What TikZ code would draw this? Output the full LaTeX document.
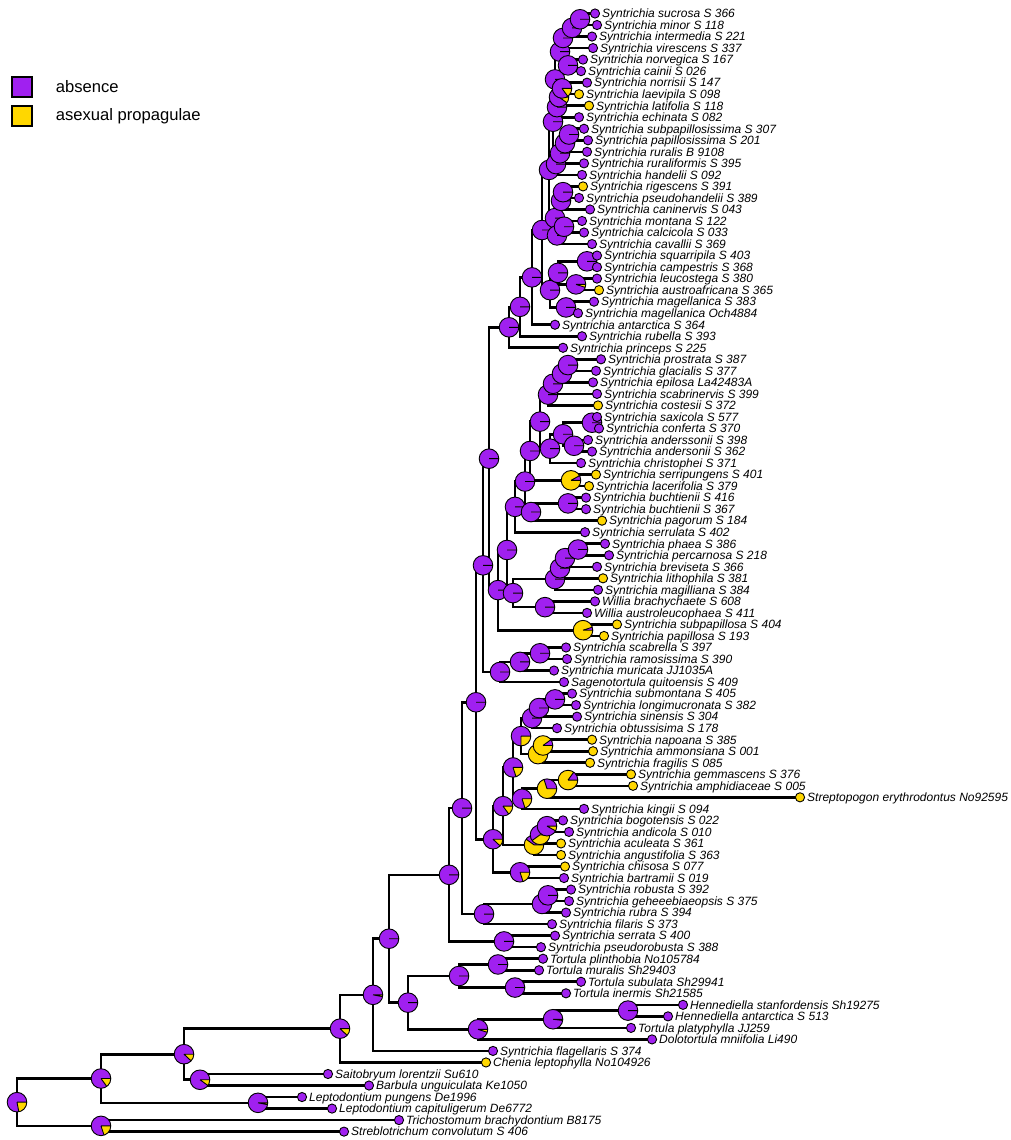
\documentclass[tikz,border=0pt]{standalone}
\usepackage{fontspec}
\setsansfont{Liberation Sans}
\usetikzlibrary{calc,positioning}
\definecolor{absc}{HTML}{A020F0}
\definecolor{asex}{HTML}{FFD700}
\pgfdeclarelayer{front}
\pgfsetlayers{main,front}

\newcommand\pielist{}
\newcommand\nodepie[2]{%
  \fill[absc] (#1) circle (9.8);
  \fill[asex] (#1) -- ++({360*(1-#2)}:9.8) arc[start angle={360*(1-#2)}, end angle=360, radius=9.8] -- cycle;
  \draw[pieline] (#1) circle (9.8) (#1) -- ++(0:9.8) (#1) -- ++({360*(1-#2)}:9.8);}
\newcommand\clade[5]{%
  \path ($(#3)!.5!(#4)$) coordinate (mid);
  \coordinate (#1) at (#2,0 |- mid);
  \draw[branch] (#1) |- (#3) (#1) |- (#4);
  \xdef\pielist{\noexpand\nodepie{#1}{#5}\unexpanded\expandafter{\pielist}}}

\begin{document}
\begin{tikzpicture}[x=1pt, y=1pt,
    branch/.style={line width=2.6pt},
    pieline/.style={line width=.9pt},
    tipdot/.style={draw, line width=.9pt},
    tiplab/.style={anchor=base west, inner sep=0, xshift=7pt, yshift=-4.3pt,
      font=\sffamily\itshape\fontsize{12}{14}\selectfont},
    key/.style={draw, line width=1.2pt, minimum size=20pt, inner sep=0},
    keylab/.style={inner sep=0, font=\sffamily\fontsize{16.6}{19}\selectfont}]
  \useasboundingbox (0,0) rectangle (1011,-1140);

  \node[key, fill=absc] (kabs) at (22,-87) {};
  \node[key, fill=asex] (kasx) at (22,-116) {};
  \node[keylab, right=23pt of kabs] (labs) {absence};
  \node[keylab, right=23pt of kasx] (lasx) {asexual propagulae};

  \foreach \x/\c/\lab [count=\i] in {
      595/absc/Syntrichia sucrosa S 366, 597/absc/Syntrichia minor S 118,
      592/absc/Syntrichia intermedia S 221, 593/absc/Syntrichia virescens S 337,
      583/absc/Syntrichia norvegica S 167, 581/absc/Syntrichia cainii S 026,
      587/absc/Syntrichia norrisii S 147, 579/asex/Syntrichia laevipila S 098,
      589/asex/Syntrichia latifolia S 118, 579/absc/Syntrichia echinata S 082,
      584/absc/Syntrichia subpapillosissima S 307, 588/absc/Syntrichia papillosissima S 201,
      587/absc/Syntrichia ruralis B 9108, 584/absc/Syntrichia ruraliformis S 395,
      582/absc/Syntrichia handelii S 092, 583/asex/Syntrichia rigescens S 391,
      579/absc/Syntrichia pseudohandelii S 389, 590/absc/Syntrichia caninervis S 043,
      582/absc/Syntrichia montana S 122, 584/absc/Syntrichia calcicola S 033,
      592/absc/Syntrichia cavallii S 369, 597/absc/Syntrichia squarripila S 403,
      597/absc/Syntrichia campestris S 368, 597/absc/Syntrichia leucostega S 380,
      599/asex/Syntrichia austroafricana S 365, 594/absc/Syntrichia magellanica S 383,
      578/absc/Syntrichia magellanica Och4884, 555/absc/Syntrichia antarctica S 364,
      582/absc/Syntrichia rubella S 393, 563/absc/Syntrichia princeps S 225,
      601/absc/Syntrichia prostrata S 387, 596/absc/Syntrichia glacialis S 377,
      593/absc/Syntrichia epilosa La42483A, 597/absc/Syntrichia scabrinervis S 399,
      598/asex/Syntrichia costesii S 372, 597/absc/Syntrichia saxicola S 577,
      599/absc/Syntrichia conferta S 370, 588/absc/Syntrichia anderssonii S 398,
      592/absc/Syntrichia andersonii S 362, 581/absc/Syntrichia christophei S 371,
      596/asex/Syntrichia serripungens S 401, 589/asex/Syntrichia lacerifolia S 379,
      586/absc/Syntrichia buchtienii S 416, 586/absc/Syntrichia buchtienii S 367,
      602/asex/Syntrichia pagorum S 184, 585/absc/Syntrichia serrulata S 402,
      605/absc/Syntrichia phaea S 386, 609/absc/Syntrichia percarnosa S 218,
      597/absc/Syntrichia breviseta S 366, 603/asex/Syntrichia lithophila S 381,
      598/absc/Syntrichia magilliana S 384, 595/absc/Willia brachychaete S 608,
      587/absc/Willia austroleucophaea S 411, 617/asex/Syntrichia subpapillosa S 404,
      604/asex/Syntrichia papillosa S 193, 566/absc/Syntrichia scabrella S 397,
      567/absc/Syntrichia ramosissima S 390, 554/absc/Syntrichia muricata JJ1035A,
      564/absc/Sagenotortula quitoensis S 409, 572/absc/Syntrichia submontana S 405,
      576/absc/Syntrichia longimucronata S 382, 577/absc/Syntrichia sinensis S 304,
      557/absc/Syntrichia obtussisima S 178, 592/asex/Syntrichia napoana S 385,
      593/asex/Syntrichia ammonsiana S 001, 590/asex/Syntrichia fragilis S 085,
      631/asex/Syntrichia gemmascens S 376, 633/asex/Syntrichia amphidiaceae S 005,
      800/asex/Streptopogon erythrodontus No92595, 584/absc/Syntrichia kingii S 094,
      563/absc/Syntrichia bogotensis S 022, 569/absc/Syntrichia andicola S 010,
      561/asex/Syntrichia aculeata S 361, 561/asex/Syntrichia angustifolia S 363,
      565/asex/Syntrichia chisosa S 077, 564/absc/Syntrichia bartramii S 019,
      571/absc/Syntrichia robusta S 392, 569/absc/Syntrichia geheeebiaeopsis S 375,
      566/absc/Syntrichia rubra S 394, 552/absc/Syntrichia filaris S 373,
      555/absc/Syntrichia serrata S 400, 541/absc/Syntrichia pseudorobusta S 388,
      543/absc/Tortula plinthobia No105784, 539/absc/Tortula muralis Sh29403,
      581/absc/Tortula subulata Sh29941, 566/absc/Tortula inermis Sh21585,
      683/absc/Hennediella stanfordensis Sh19275, 668/absc/Hennediella antarctica S 513,
      631/absc/Tortula platyphylla JJ259, 652/absc/Dolotortula mniifolia Li490,
      493/absc/Syntrichia flagellaris S 374, 486/asex/Chenia leptophylla No104926,
      328/absc/Saitobryum lorentzii Su610, 369/absc/Barbula unguiculata Ke1050,
      302/absc/Leptodontium pungens De1996, 332/absc/Leptodontium capituligerum De6772,
      399/absc/Trichostomum brachydontium B8175, 344/absc/Streblotrichum convolutum S 406}{
    \coordinate (t\i) at (\x,{-13.5-11.527*(\i-1)});
    \node[tiplab] (l\i) at (t\i) {\lab};
    \begin{pgfonlayer}{front}
      \draw[tipdot, fill=\c] (t\i) circle (4.6);
    \end{pgfonlayer}
  }

  \clade{n1}{580}{t1}{t2}{0}
  \clade{n2}{572}{n1}{t3}{0}
  \clade{n3}{563}{n2}{t4}{0}
  \clade{n4}{568}{t5}{t6}{0}
  \clade{n5}{560}{n3}{n4}{0}
  \clade{n6}{562}{t7}{t8}{.15}
  \clade{n7}{559}{n6}{t9}{.1}
  \clade{n8}{557}{n7}{t10}{0}
  \clade{n9}{555}{n5}{n8}{0}
  \clade{n10}{569}{t11}{t12}{0}
  \clade{n11}{565}{n10}{t13}{0}
  \clade{n12}{560}{n11}{t14}{0}
  \clade{n13}{556}{n12}{t15}{0}
  \clade{n14}{553}{n9}{n13}{0}
  \clade{n15}{563}{t16}{t17}{0}
  \clade{n16}{561}{n15}{t18}{0}
  \clade{n17}{564}{t19}{t20}{0}
  \clade{n18}{557}{n17}{t21}{0}
  \clade{n19}{555}{n16}{n18}{0}
  \clade{n20}{549}{n14}{n19}{0}
  \clade{n21}{587}{t22}{t23}{0}
  \clade{n22}{576}{t24}{t25}{.05}
  \clade{n23}{558}{n21}{n22}{0}
  \clade{n24}{566}{t26}{t27}{0}
  \clade{n25}{550}{n23}{n24}{0}
  \clade{n26}{542}{n20}{n25}{0}
  \clade{n27}{532}{n26}{t28}{0}
  \clade{n28}{520}{n27}{t29}{0}
  \clade{n29}{509}{n28}{t30}{0}
  \clade{n30}{568}{t31}{t32}{0}
  \clade{n31}{562}{n30}{t33}{0}
  \clade{n32}{553}{n31}{t34}{0}
  \clade{n33}{548}{n32}{t35}{0}
  \clade{n34}{592}{t36}{t37}{0}
  \clade{n35}{574}{t38}{t39}{0}
  \clade{n36}{563}{n34}{n35}{0}
  \clade{n37}{550}{n36}{t40}{0}
  \clade{n38}{540}{n33}{n37}{0}
  \clade{n39}{571}{t41}{t42}{.92}
  \clade{n40}{530}{n38}{n39}{0}
  \clade{n41}{568}{t43}{t44}{0}
  \clade{n42}{531}{n41}{t45}{0}
  \clade{n43}{525}{n40}{n42}{0}
  \clade{n44}{515}{n43}{t46}{0}
  \clade{n45}{578}{t47}{t48}{0}
  \clade{n46}{565}{n45}{t49}{0}
  \clade{n47}{560}{n46}{t50}{0}
  \clade{n48}{555}{n47}{t51}{0}
  \clade{n49}{545}{t52}{t53}{0}
  \clade{n50}{513}{n48}{n49}{0}
  \clade{n51}{507}{n44}{n50}{0}
  \clade{n52}{583}{t54}{t55}{.95}
  \clade{n53}{498}{n51}{n52}{0}
  \clade{n54}{489}{n29}{n53}{0}
  \clade{n55}{540}{t56}{t57}{0}
  \clade{n56}{520}{n55}{t58}{0}
  \clade{n57}{500}{n56}{t59}{0}
  \clade{n58}{483}{n54}{n57}{0}
  \clade{n59}{555}{t60}{t61}{0}
  \clade{n60}{539}{n59}{t62}{0}
  \clade{n61}{532}{n60}{t63}{0}
  \clade{n62}{543}{t64}{t65}{.9}
  \clade{n63}{538}{n62}{t66}{.97}
  \clade{n64}{521}{n61}{n63}{.25}
  \clade{n65}{568}{t67}{t68}{.85}
  \clade{n66}{547}{n65}{t69}{.7}
  \clade{n67}{522}{n66}{t70}{.2}
  \clade{n68}{513}{n64}{n67}{.2}
  \clade{n69}{547}{t71}{t72}{.08}
  \clade{n70}{540}{n69}{t73}{.4}
  \clade{n71}{534}{n70}{t74}{.6}
  \clade{n72}{503}{n68}{n71}{.15}
  \clade{n73}{520}{t75}{t76}{.2}
  \clade{n74}{493}{n72}{n73}{.12}
  \clade{n75}{548}{t77}{t78}{0}
  \clade{n76}{542}{n75}{t79}{0}
  \clade{n77}{484}{n76}{t80}{0}
  \clade{n78}{476}{n58}{n74}{0}
  \clade{n79}{462}{n78}{n77}{0}
  \clade{n80}{504}{t81}{t82}{0}
  \clade{n81}{449}{n79}{n80}{0}
  \clade{n82}{498}{t83}{t84}{0}
  \clade{n83}{515}{t85}{t86}{0}
  \clade{n84}{459}{n82}{n83}{0}
  \clade{n85}{628}{t87}{t88}{0}
  \clade{n86}{553}{n85}{t89}{.02}
  \clade{n87}{478}{n86}{t90}{.05}
  \clade{n88}{408}{n84}{n87}{0}
  \clade{n89}{389}{n81}{n88}{0}
  \clade{n90}{373}{n89}{t91}{.03}
  \clade{n91}{340}{n90}{t92}{.12}
  \clade{n92}{200}{t93}{t94}{.1}
  \clade{n93}{184}{n91}{n92}{.12}
  \clade{n94}{258}{t95}{t96}{.03}
  \clade{n95}{101}{n93}{n94}{.15}
  \clade{n96}{101}{t97}{t98}{.2}
  \clade{n97}{17}{n95}{n96}{.22}

  \pielist
\end{tikzpicture}
\end{document}
